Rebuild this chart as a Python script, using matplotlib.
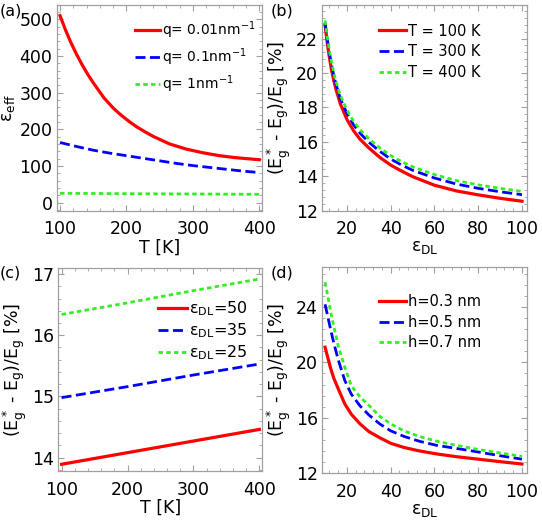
import matplotlib
matplotlib.use("Agg")
import matplotlib.pyplot as plt
import numpy as np
from matplotlib.ticker import AutoMinorLocator, MultipleLocator

plt.rcParams['font.family'] = ['DejaVu Sans']
plt.rcParams['mathtext.default'] = 'regular'

# (a) effective permittivity vs temperature
T_a1 = [100, 108, 116, 125, 133, 141, 150, 166, 180, 191, 205, 216, 230, 241, 265, 290, 315, 340, 365, 400]
eps_q001 = [510, 472, 438, 404, 377, 352, 327, 286, 258, 240, 220, 206, 191, 180, 160, 146, 136, 128, 122.5, 117]
T_a = [100, 125, 150, 175, 200, 225, 250, 275, 300, 325, 350, 375, 400]
eps_q01 = [164, 153, 143, 135, 128, 121, 114, 107, 101, 96, 91, 86, 82]
eps_q1 = [25.5, 25.2, 25.0, 24.7, 24.5, 24.2, 24.0, 23.8, 23.6, 23.4, 23.1, 22.9, 22.7]

# (b) gap change vs eps_DL for several T
epsDL_b = [10, 11, 12, 13, 14, 15, 17, 20, 23, 26, 30, 35, 40, 45, 50, 60, 70, 80, 90, 100]
gap_T100 = [22.8, 21.75, 20.9, 20.15, 19.55, 19.05, 18.2, 17.3, 16.65, 16.15, 15.65, 15.1, 14.65,
            14.3, 13.98, 13.48, 13.15, 12.92, 12.72, 12.55]
gap_T300 = [22.9, 21.95, 21.15, 20.45, 19.85, 19.35, 18.5, 17.65, 17.0, 16.5, 15.98, 15.45, 15.0,
            14.65, 14.35, 13.9, 13.55, 13.3, 13.1, 12.93]
gap_T400 = [23.05, 22.1, 21.3, 20.6, 20.0, 19.5, 18.7, 17.85, 17.2, 16.7, 16.18, 15.65, 15.2,
            14.85, 14.55, 14.1, 13.75, 13.5, 13.3, 13.12]

# (c) gap change vs T for several eps_DL
T_c = [100, 200, 300, 400]
gap_e50 = [13.89, 14.08, 14.27, 14.46]
gap_e35 = [14.98, 15.16, 15.35, 15.53]
gap_e25 = [16.34, 16.53, 16.73, 16.92]

# (d) gap change vs eps_DL for several h
epsDL_d = [10, 11, 12.5, 14, 16, 19, 22, 26, 30, 35, 40, 46, 53, 61, 70, 80, 90, 100]
gap_h03 = [21.1, 20.5, 19.6, 18.85, 18.1, 17.0, 16.25, 15.55, 15.0, 14.55, 14.15, 13.85, 13.6,
           13.38, 13.18, 13.0, 12.82, 12.65]
gap_h05 = [24.2, 23.5, 22.4, 21.4, 20.2, 18.7, 17.7, 16.85, 16.2, 15.55, 15.05, 14.65, 14.3,
           14.0, 13.78, 13.52, 13.25, 13.0]
gap_h07 = [25.8, 25.0, 23.7, 22.6, 21.2, 19.65, 18.3, 17.5, 16.9, 16.1, 15.55, 15.05, 14.65,
           14.3, 14.0, 13.7, 13.45, 13.2]

RED, BLUE, GREEN = '#ff0000', '#0000ff', '#33ee22'
gaplabel = '(E$^*_g$ - E$_g$)/E$_g$ [%]'
epslabel = 'ε$_{DL}$'

fig = plt.figure(figsize=(5.42, 5.21), dpi=100)
W, H = 542, 521


def make_ax(l, r, t, b):
    return fig.add_axes([l / W, 1 - b / H, (r - l) / W, (b - t) / H])


ax_a = make_ax(56.7, 262, 5, 210.7)
ax_b = make_ax(322, 527, 5, 210.7)
ax_c = make_ax(58.3, 262, 268, 471)
ax_d = make_ax(322, 527, 267, 473)


def style(ax):
    for s in ax.spines.values():
        s.set_color('#a0a0a0')
        s.set_linewidth(0.9)
    ax.xaxis.set_minor_locator(AutoMinorLocator(5))
    ax.yaxis.set_minor_locator(AutoMinorLocator(5))
    ax.tick_params(which='both', direction='in', top=True, right=True,
                   color='#a0a0a0', labelsize=12.5)
    ax.tick_params(which='major', length=4, width=0.8)
    ax.tick_params(which='minor', length=2, width=0.6)
    ax.tick_params(axis='x', pad=7)
    ax.tick_params(axis='y', pad=3)


def lines(ax, x, ys, labels, x0=None):
    ax.plot(x0 if x0 is not None else x, ys[0], color=RED, lw=2.3, ls='-', label=labels[0])
    ax.plot(x, ys[1], color=BLUE, lw=2.0, ls=(0, (3.6, 1.6)), label=labels[1])
    ax.plot(x, ys[2], color=GREEN, lw=2.0, ls=(0, (1.6, 1.2)), label=labels[2])


def leg(ax, x, y, fs=10.5, sp=0.4):
    ax.legend(loc='upper left', bbox_to_anchor=(x, y), frameon=False, fontsize=fs,
              handlelength=1.8, handletextpad=0.15, labelspacing=sp,
              borderpad=0, borderaxespad=0)


# (a)
lines(ax_a, T_a, [eps_q001, eps_q01, eps_q1],
      ['q= 0.01nm$^{-1}$', 'q= 0.1nm$^{-1}$', 'q= 1nm$^{-1}$'], x0=T_a1)
ax_a.set_xlim(95, 404)
ax_a.set_ylim(-22, 539)
ax_a.xaxis.set_major_locator(MultipleLocator(100))
ax_a.yaxis.set_major_locator(MultipleLocator(100))
style(ax_a)
ax_a.set_xlabel('T [K]', fontsize=12.5, labelpad=0)
ax_a.set_ylabel('ε$_{eff}$', fontsize=12.5, labelpad=2)
leg(ax_a, 0.38, 0.93, fs=10, sp=0.38)

# (b)
lines(ax_b, epsDL_b, [gap_T100, gap_T300, gap_T400],
      ['T = 100 K', 'T = 300 K', 'T = 400 K'])
ax_b.set_xlim(8.6, 102.3)
ax_b.set_ylim(12, 23.95)
ax_b.xaxis.set_major_locator(MultipleLocator(20))
ax_b.yaxis.set_major_locator(MultipleLocator(2))
style(ax_b)
ax_b.set_xlabel(epslabel, fontsize=12.5, labelpad=0)
ax_b.set_ylabel(gaplabel, fontsize=12.5, labelpad=2)
leg(ax_b, 0.28, 0.91)

# (c)
lines(ax_c, T_c, [gap_e50, gap_e35, gap_e25],
      ['ε$_{DL}$=50', 'ε$_{DL}$=35', 'ε$_{DL}$=25'])
ax_c.set_xlim(95, 404)
ax_c.set_ylim(13.78, 17.1)
ax_c.xaxis.set_major_locator(MultipleLocator(100))
ax_c.yaxis.set_major_locator(MultipleLocator(1))
style(ax_c)
ax_c.set_xlabel('T [K]', fontsize=12.5, labelpad=0)
ax_c.set_ylabel(gaplabel, fontsize=12.5, labelpad=2)
leg(ax_c, 0.49, 0.845, fs=11.5, sp=0.2)

# (d)
lines(ax_d, epsDL_d, [gap_h03, gap_h05, gap_h07],
      ['h=0.3 nm', 'h=0.5 nm', 'h=0.7 nm'])
ax_d.set_xlim(8.6, 102.3)
ax_d.set_ylim(12, 26.9)
ax_d.xaxis.set_major_locator(MultipleLocator(20))
ax_d.yaxis.set_major_locator(MultipleLocator(4))
style(ax_d)
ax_d.set_xlabel(epslabel, fontsize=12.5, labelpad=0)
ax_d.set_ylabel(gaplabel, fontsize=12.5, labelpad=2)
leg(ax_d, 0.28, 0.87)

for txt, x, y in [('(a)', 0, 11), ('(b)', 271, 11), ('(c)', 0, 273), ('(d)', 271, 273)]:
    fig.text(x / W, 1 - y / H, txt, fontsize=11.5, va='center', ha='left')

fig.savefig('out.png', dpi=100)
